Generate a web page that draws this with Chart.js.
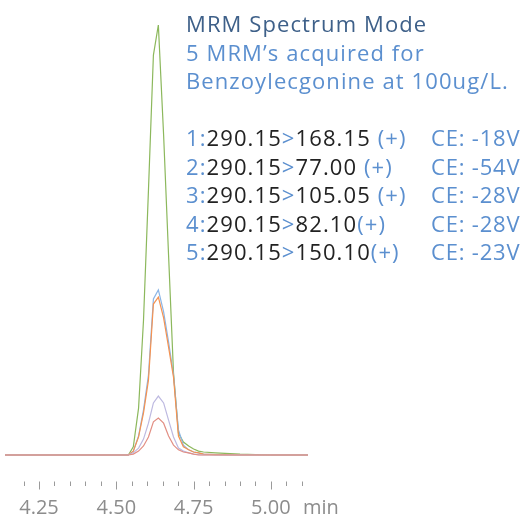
<!DOCTYPE html>
<html>
<head>
<meta charset="utf-8">
<script src="https://cdn.jsdelivr.net/npm/chart.js@4/dist/chart.umd.min.js"></script>
<style>
  body { margin: 0; background: #fff; }
  #wrap { position: relative; width: 523px; height: 515px; }
  #notes {
    position: absolute; left: 186px; top: 9px;
    font-family: "Open Sans", sans-serif; font-size: 22px; line-height: 28.5px;
    letter-spacing: 1.1px;
    color: #5b8fcf; white-space: nowrap;
  }
  #notes .title { color: #3e6089; }
  #notes .k { color: #222; }
  #notes .gap { height: 28.5px; }
  #notes .left { display: inline-block; width: 245px; }
  #notes .ce { letter-spacing: 0.8px; }
</style>
</head>
<body>
<div id="wrap">
  <canvas id="mrm" width="523" height="515"></canvas>
  <div id="notes"></div>
</div>
<script>
// retention time (min) and relative response of the 5 MRM traces
const times = [4.14, 4.40, 4.539, 4.555, 4.572, 4.588, 4.604, 4.620, 4.636, 4.653, 4.669,
               4.685, 4.701, 4.717, 4.734, 4.750, 4.766, 4.782, 4.82, 4.90, 5.00, 5.12];
const mrmGreen  = [0, 0, 0, 1.9, 10.9, 31.4, 61.6, 93.0, 100, 74.4, 46.5, 19.1, 5.1, 3.0, 2.1, 1.4, 0.9, 0.7, 0.5, 0.2, 0, 0];
const mrmBlue   = [0, 0, 0, 0.9, 4.4, 10.5, 18.6, 36.3, 38.4, 33.3, 26.3, 18.6, 5.8, 2.3, 1.2, 0.7, 0.5, 0.2, 0.1, 0, 0, 0];
const mrmOrange = [0, 0, 0, 0.9, 4.2, 9.8, 17.4, 35.1, 36.7, 31.9, 25.1, 18.1, 4.4, 1.9, 1.2, 0.7, 0.5, 0.2, 0.1, 0, 0, 0];
const mrmPurple = [0, 0, 0, 0.5, 1.6, 3.7, 7.4, 12.1, 13.7, 12.1, 8.1, 4.2, 1.6, 0.9, 0.5, 0.2, 0.1, 0, 0, 0, 0, 0];
const mrmRed    = [0, 0, 0, 0.2, 0.9, 2.1, 4.2, 7.7, 8.6, 7.4, 4.4, 2.3, 1.2, 0.7, 0.5, 0.2, 0, 0, 0, 0, 0, 0];

const tickValues = [4.20, 4.25, 4.30, 4.35, 4.40, 4.45, 4.50, 4.55, 4.60, 4.65,
                    4.70, 4.75, 4.80, 4.85, 4.90, 4.95, 5.00, 5.05, 5.10];
const majorTicks = ['4.25', '4.50', '4.75', '5.00'];

// transitions listed in the annotation
const ids        = ['1', '2', '3', '4', '5'];
const precursors = ['290.15', '290.15', '290.15', '290.15', '290.15'];
const products   = ['168.15', '77.00', '105.05', '82.10', '150.10'];
const polarity   = [' (+)', ' (+)', ' (+)', '(+)', '(+)'];
const ceVolts    = ['-18V', '-54V', '-28V', '-28V', '-23V'];

let html = '<div class="title">MRM Spectrum Mode</div>' +
           '<div>5 MRM\u2019s acquired for</div>' +
           '<div>Benzoylecgonine at 100ug/L.</div><div class="gap"></div>';
ids.forEach((id, i) => {
  html += '<div><span class="left">' + id + ':<span class="k">' + precursors[i] + '</span>&gt;' +
          '<span class="k">' + products[i] + '</span>' + polarity[i] + '</span>' +
          '<span class="ce">CE: ' + ceVolts[i] + '</span></div>';
});
document.getElementById('notes').innerHTML = html;

const toPoints = arr => arr.map((v, i) => ({ x: times[i], y: v }));

const traceLine = (label, data, color) => ({
  label: label,
  data: toPoints(data),
  borderColor: color,
  borderWidth: 1.2,
  pointRadius: 0,
  tension: 0,
  fill: false
});

// tick marks: long for labelled times, short for the rest
const tickMarks = {
  id: 'tickMarks',
  afterDraw(chart) {
    const ctx = chart.ctx;
    const xs = chart.scales.x;
    const top = chart.chartArea.bottom + 0.5;
    ctx.save();
    ctx.strokeStyle = '#9a9a9a';
    ctx.lineWidth = 1;
    tickValues.forEach(v => {
      const px = Math.round(xs.getPixelForValue(v)) + 0.5;
      const len = majorTicks.includes(v.toFixed(2)) ? 8 : 4.5;
      ctx.beginPath();
      ctx.moveTo(px, top);
      ctx.lineTo(px, top + len);
      ctx.stroke();
    });
    ctx.fillStyle = '#8c8c8c';
    ctx.font = '20px "Open Sans"';
    ctx.textAlign = 'center';
    ctx.textBaseline = 'alphabetic';
    majorTicks.forEach(t => {
      ctx.fillText(t, xs.getPixelForValue(parseFloat(t)), 514);
    });
    ctx.fillText('min', xs.getPixelForValue(5.00) + 50, 514);
    ctx.restore();
  }
};

new Chart(document.getElementById('mrm').getContext('2d'), {
  type: 'line',
  data: {
    datasets: [
      traceLine('MRM 5', mrmRed, '#e28f84'),
      traceLine('MRM 4', mrmPurple, '#bdb9e0'),
      traceLine('MRM 3', mrmOrange, '#f59251'),
      traceLine('MRM 2', mrmBlue, '#8bb5e6'),
      traceLine('MRM 1', mrmGreen, '#8cb85c')
    ]
  },
  options: {
    responsive: false,
    animation: false,
    layout: { padding: { left: 5, right: 215, top: 25, bottom: 0 } },
    plugins: { legend: { display: false }, tooltip: { enabled: false } },
    scales: {
      x: {
        type: 'linear',
        min: 4.14,
        max: 5.12,
        grid: { display: false },
        border: { display: false },
        ticks: { display: false },
        afterBuildTicks: s => { s.ticks = tickValues.map(v => ({ value: v })); },
        afterFit: s => { s.height = 34; }
      },
      y: {
        display: false,
        min: -6.05,
        max: 100
      }
    }
  },
  plugins: [tickMarks]
});
</script>
</body>
</html>
